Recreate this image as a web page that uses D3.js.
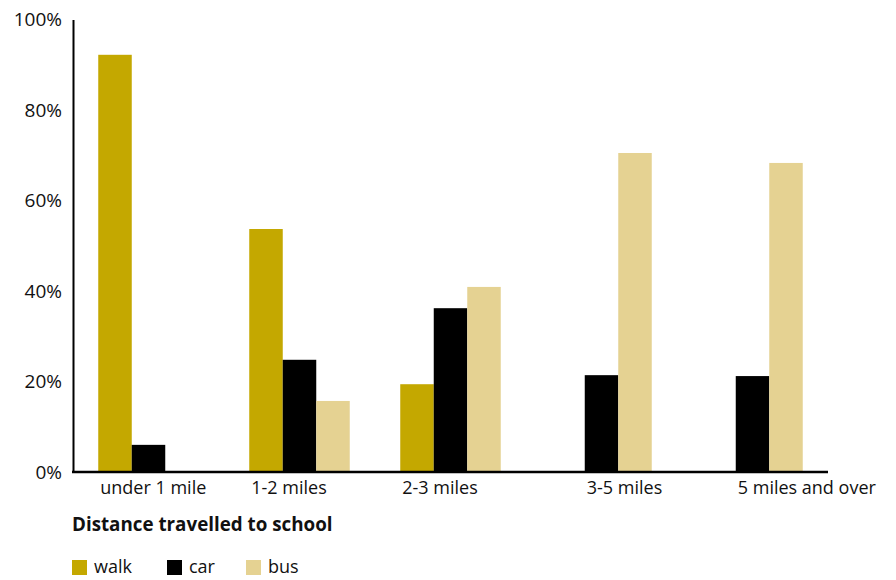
<!DOCTYPE html>
<html><head><meta charset="utf-8">
<script src="https://cdn.jsdelivr.net/npm/d3@7"></script>
<style>body{margin:0;background:#fff}svg{display:block}text{font-family:"Open Sans",sans-serif;fill:#111}</style>
</head><body><svg id="c" width="896" height="580"></svg>
<script>
const categories = ["under 1 mile", "1-2 miles", "2-3 miles", "3-5 miles", "5 miles and over"];
const seriesNames = ["walk", "car", "bus"];
const walk = [92.2, 53.7, 19.4, 0, 0];
const car = [6.0, 24.8, 36.2, 21.4, 21.2];
const bus = [0, 15.7, 40.9, 70.5, 68.3];
const yTicks = [0, 20, 40, 60, 80, 100];
const colors = ["#C4A800", "#000000", "#E5D292"];
const xTitle = "Distance travelled to school";

const svg = d3.select("#c");
const series = [walk, car, bus];
const x0 = d3.scaleBand().domain(categories).range([73, 828]).paddingInner(0).paddingOuter(0);
const barW = 33.5;
const x1 = d3.scaleBand().domain(seriesNames).range([0, barW * 3]);
const off = (x0.bandwidth() - barW * 3) / 2;
const y = d3.scaleLinear().domain([0, 100]).range([472, 19.5]);

// bars
categories.forEach((c, i) => {
  const g = svg.append("g").attr("transform", `translate(${x0(c) + off},0)`);
  seriesNames.forEach((s, j) => {
    const v = series[j][i];
    if (v <= 0) return;
    g.append("rect").attr("x", x1(s)).attr("width", x1.bandwidth())
      .attr("y", y(v)).attr("height", y(0) - y(v)).attr("fill", colors[j]);
  });
});

// y axis
const yAxis = d3.axisLeft(y).tickValues(yTicks).tickSize(0).tickPadding(11).tickFormat(d => d + "%");
const ya = svg.append("g").attr("transform", "translate(73,0)").call(yAxis);
ya.select(".domain").attr("stroke", "#000").attr("stroke-width", 2);
ya.selectAll("text").style("font-family", '"Open Sans",sans-serif').style("font-size", "19px")
  .attr("fill", "#1a1a1a");

// baseline
svg.append("line").attr("x1", 72).attr("x2", 828).attr("y1", y(0)).attr("y2", y(0))
  .attr("stroke", "#000").attr("stroke-width", 2.5);

// x labels, left-aligned to first drawn bar
categories.forEach((c, i) => {
  let first = seriesNames.findIndex((s, j) => series[j][i] > 0);
  svg.append("text").attr("x", x0(c) + off + x1(seriesNames[first]) + 2).attr("y", 494)
    .attr("font-size", 18).text(c);
});

// title
svg.append("text").attr("x", 72).attr("y", 531).attr("font-size", 18.8).attr("font-weight", "bold").text(xTitle);

// legend
const lx = [72, 167, 246];
seriesNames.forEach((s, j) => {
  svg.append("rect").attr("x", lx[j]).attr("y", 560).attr("width", 15).attr("height", 15).attr("fill", colors[j]);
  svg.append("text").attr("x", lx[j] + 22).attr("y", 573).attr("font-size", 18).text(s);
});
</script></body></html>
